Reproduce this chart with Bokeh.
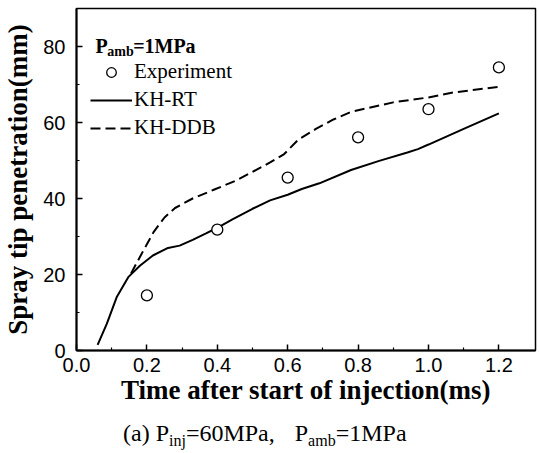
from bokeh.plotting import figure
from bokeh.models import (Legend, LegendItem, Label, FixedTicker, Range1d,
                          NumeralTickFormatter, Div)
from bokeh.layouts import column
from bokeh.embed import file_html
from bokeh.resources import INLINE

# ---- data ----
exp_time = [0.2, 0.4, 0.6, 0.8, 1.0, 1.2]
exp_pen = [14.5, 31.8, 45.5, 56.1, 63.5, 74.5]

rt_time = [0.06, 0.086, 0.114, 0.147, 0.18, 0.217, 0.26, 0.293, 0.33, 0.368,
           0.4, 0.443, 0.5, 0.55, 0.6, 0.64, 0.69, 0.78, 0.86, 0.94, 0.97,
           1.0, 1.1, 1.2]
rt_pen = [1.5, 7.0, 14.0, 19.3, 22.3, 25.0, 27.0, 27.6, 29.1, 30.8,
          32.3, 34.5, 37.3, 39.5, 41.0, 42.5, 44.0, 47.5, 49.9, 52.1, 53.0,
          54.2, 58.3, 62.4]

ddb_time = [0.155, 0.19, 0.22, 0.25, 0.28, 0.33, 0.39, 0.45, 0.5, 0.55,
            0.59, 0.63, 0.68, 0.73, 0.78, 0.9, 1.0, 1.07, 1.2]
ddb_pen = [20.3, 26.3, 31.3, 35.0, 37.5, 40.0, 42.3, 44.6, 47.0, 49.5,
           51.7, 55.5, 58.3, 60.8, 62.8, 65.3, 66.6, 67.9, 69.4]

x_ticks = [0.0, 0.2, 0.4, 0.6, 0.8, 1.0, 1.2]
x_minor = [0.1, 0.3, 0.5, 0.7, 0.9, 1.1]
y_ticks = [0, 20, 40, 60, 80]
y_minor = [10, 30, 50, 70]

SERIF = "Liberation Serif"
SANS = "Liberation Sans"

p = figure(width=539, height=422, output_backend="svg", toolbar_location=None,
           x_range=Range1d(0, 1.304), y_range=Range1d(0, 90),
           min_border_left=73, min_border_right=4, min_border_top=8,
           min_border_bottom=72)
p.background_fill_color = "white"
p.border_fill_color = "white"
p.grid.visible = False
p.outline_line_color = "black"
p.outline_line_width = 1.5

# axes
p.xaxis.ticker = FixedTicker(ticks=x_ticks, minor_ticks=x_minor)
p.yaxis.ticker = FixedTicker(ticks=y_ticks, minor_ticks=y_minor)
p.xaxis.formatter = NumeralTickFormatter(format="0.0")
p.xaxis.axis_label = "Time after start of injection(ms)"
p.yaxis.axis_label = "Spray tip penetration(mm)"
for ax in (p.xaxis, p.yaxis):
    ax.axis_line_width = 2
    ax.axis_line_color = "black"
    ax.major_tick_in = 6
    ax.major_tick_out = 0
    ax.minor_tick_in = 3
    ax.minor_tick_out = 0
    ax.major_tick_line_width = 1.5
    ax.minor_tick_line_width = 1.2
    ax.major_label_text_font = SANS
    ax.major_label_text_font_size = "20px"
    ax.major_label_text_color = "black"
    ax.axis_label_text_font = SERIF
    ax.axis_label_text_font_style = "bold"
    ax.axis_label_text_font_size = "27px"
    ax.axis_label_text_color = "black"
p.xaxis.major_label_standoff = 7
p.xaxis.axis_label_standoff = 0
p.yaxis.major_label_standoff = 11
p.yaxis.axis_label_standoff = 7

# data
r_rt = p.line(rt_time, rt_pen, line_color="black", line_width=2)
r_ddb = p.line(ddb_time, ddb_pen, line_color="black", line_width=2,
               line_dash="10 5")
r_exp = p.scatter(exp_time, exp_pen, marker="circle", size=11,
                  line_color="black", line_width=1.3, fill_color="white")

legend = Legend(items=[LegendItem(label="Experiment", renderers=[r_exp]),
                       LegendItem(label="KH-RT", renderers=[r_rt]),
                       LegendItem(label="KH-DDB", renderers=[r_ddb])],
                location=(14, 210), padding=5, spacing=3,
                glyph_width=42, glyph_height=24, label_standoff=2,
                label_text_font=SERIF, label_text_font_size="21px",
                label_text_color="black",
                border_line_color=None, background_fill_alpha=0)
p.add_layout(legend)


def px_to_data(X, Y):
    # page pixel -> data coordinates (frame: x 73..535, y 350..8)
    return (X - 73) / (462 / 1.304), (350 - Y) / (342 / 90)


def add_text(X, Y, txt, size, bold=False):
    x, y = px_to_data(X, Y)
    p.add_layout(Label(x=x, y=y, text=txt, text_font=SERIF,
                       text_font_size=size, text_color="black",
                       text_font_style="bold" if bold else "normal",
                       text_baseline="alphabetic", text_align="left"))


# legend heading P_amb=1MPa
add_text(92, 45, "P", "20px", True)
add_text(104, 51, "amb", "14px", True)
add_text(130, 45, "=1MPa", "20px", True)

# caption (a) P_inj=60MPa, P_amb=1MPa
sub = "font-size:16px;position:relative;top:5px;"
caption = Div(
    text=('<div style="font-family:\'Liberation Serif\';font-size:24px;'
          'line-height:23px;padding-left:123px;white-space:nowrap;color:black">'
          '(a) P<span style="' + sub + '">inj</span>=60MPa,'
          '<span style="margin-left:20px">P</span>'
          '<span style="' + sub + '">amb</span>=1MPa</div>'),
    width=539, height=31, margin=0)

layout = column(p, caption, spacing=0)
open("out.html", "w").write(file_html(layout, INLINE))
